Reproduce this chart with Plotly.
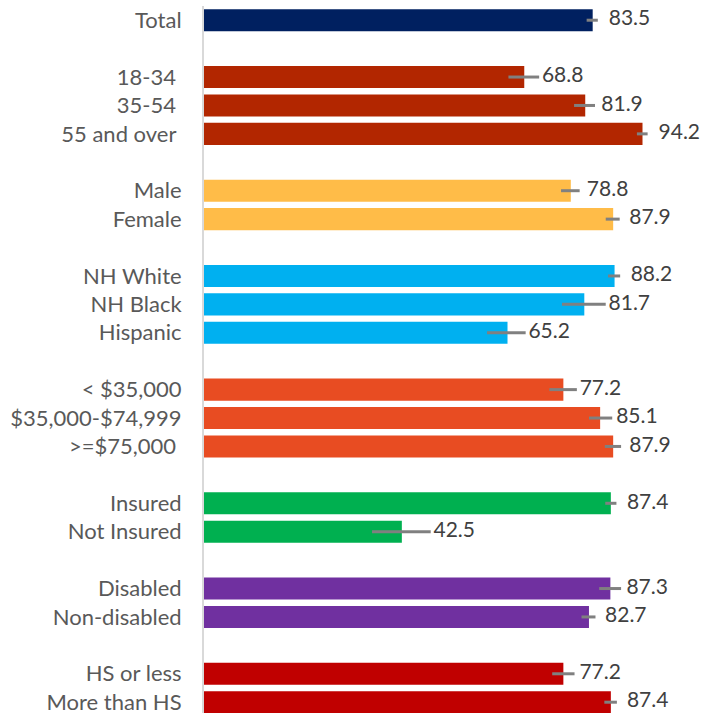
import plotly.graph_objects as go

labels = ["Total",
          "18-34 ", "35-54 ", "55 and over ",
          "Male", "Female",
          "NH White", "NH Black", "Hispanic",
          "< $35,000", "$35,000-$74,999", ">=$75,000 ",
          "Insured", "Not Insured",
          "Disabled", "Non-disabled",
          "HS or less", "More than HS"]
values = [83.5,
          68.8, 81.9, 94.2,
          78.8, 87.9,
          88.2, 81.7, 65.2,
          77.2, 85.1, 87.9,
          87.4, 42.5,
          87.3, 82.7,
          77.2, 87.4]
err_plus = [1.1,
            3.2, 2.1, 1.1,
            1.9, 1.4,
            1.2, 4.6, 3.9,
            2.9, 2.6, 1.7,
            1.2, 6.2,
            2.3, 1.4,
            2.4, 1.3]
err_minus = [1.3,
             3.4, 2.4, 1.2,
             2.1, 1.6,
             1.4, 4.8, 4.4,
             3.0, 2.4, 1.8,
             1.2, 6.4,
             2.4, 1.6,
             2.4, 1.4]
group_sizes = [1, 3, 2, 3, 3, 2, 2, 2]
group_colors = ["#002060", "#B22600", "#FFBC48", "#00B0F0",
                "#E84C22", "#00B050", "#7030A0", "#C00000"]

# slot positions with one blank slot between groups
ypos, colors = [], []
slot = 0
for gi, n in enumerate(group_sizes):
    for _ in range(n):
        ypos.append(slot)
        colors.append(group_colors[gi])
        slot += 1
    slot += 1
last_slot = ypos[-1]

FONT = "Lato, 'Open Sans', sans-serif"

fig = go.Figure()
fig.add_trace(go.Bar(
    x=values, y=ypos, orientation="h",
    marker=dict(color=colors, line=dict(width=0)),
    width=0.775,
    error_x=dict(type="data", array=err_plus, arrayminus=err_minus,
                 symmetric=False, color="#808080", thickness=3, width=0),
    hoverinfo="skip",
))

# value labels placed to the right of the bar end / error bar
lab_x = [max(v + 3.45, v + p + 0.6) for v, p in zip(values, err_plus)]
fig.add_trace(go.Scatter(
    x=lab_x, y=ypos, mode="text",
    text=[f"{v:.1f}" for v in values],
    textposition="middle right",
    textfont=dict(family=FONT, size=21, color="#404040"),
    hoverinfo="skip", cliponaxis=False,
))

px_per_unit = 4.655
plot_w = 710 - 204
fig.update_layout(
    width=710, height=713,
    margin=dict(l=204, r=0, t=6, b=0, pad=0, autoexpand=False),
    paper_bgcolor="white", plot_bgcolor="white",
    showlegend=False,
    xaxis=dict(visible=False, range=[0, plot_w / px_per_unit],
               showgrid=False, zeroline=False, automargin=False),
    yaxis=dict(range=[last_slot + 0.38, -0.5], automargin=False,
               tickmode="array", tickvals=ypos, ticktext=labels,
               showgrid=False, zeroline=False,
               showline=True, linecolor="#D9D9D9", linewidth=2,
               ticks="", ticklabelstandoff=16, ticklabeloverflow="allow",
               tickfont=dict(family=FONT, size=22, color="#595959")),
)

fig.write_html("out.html",
               config={"displayModeBar": False},
               post_script="document.body.style.margin='0px';"
                           "document.body.style.overflow='hidden';")
